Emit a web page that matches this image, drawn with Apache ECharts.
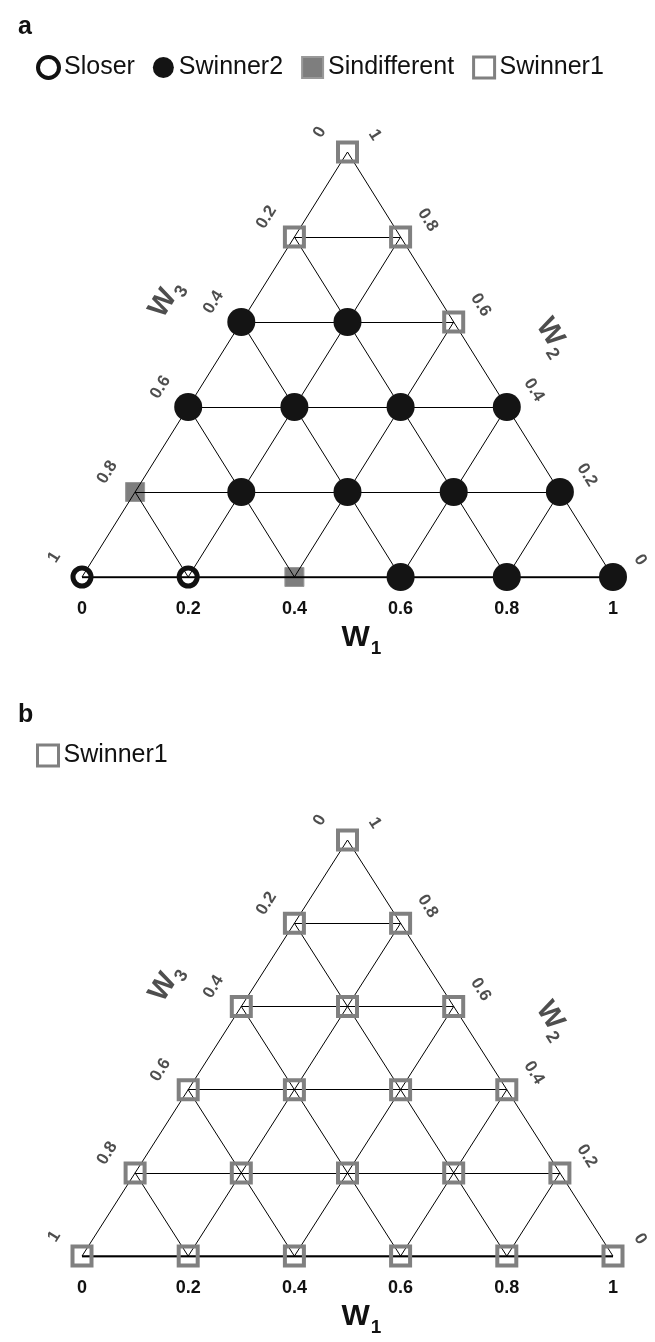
<!DOCTYPE html>
<html>
<head>
<meta charset="utf-8">
<title>Ternary weight outcomes</title>
<script src="https://cdn.jsdelivr.net/npm/echarts@6/dist/echarts.min.js"></script>
<style>
  html, body { margin: 0; padding: 0; background: #fff; }
  #chartA { width: 655px; height: 688px; }
  #chartB { width: 655px; height: 654px; }
</style>
</head>
<body>
<div id="chartA"></div>
<div id="chartB"></div>
<script>
// grid values along each side of the triangle
const ticks = [0, 0.2, 0.4, 0.6, 0.8, 1];
const tickLabels = ['0', '0.2', '0.4', '0.6', '0.8', '1'];

// points are [W1, W2], W3 = 1 - W1 - W2
const aLoser = [[0, 0], [0.2, 0]];
const aIndifferent = [[0.4, 0], [0, 0.2]];
const aWinner2 = [
    [0.6, 0], [0.8, 0], [1, 0],
    [0.2, 0.2], [0.4, 0.2], [0.6, 0.2], [0.8, 0.2],
    [0, 0.4], [0.2, 0.4], [0.4, 0.4], [0.6, 0.4],
    [0, 0.6], [0.2, 0.6]
];
const aWinner1 = [[0.4, 0.6], [0, 0.8], [0.2, 0.8], [0, 1]];

const bWinner1 = [
    [0, 0], [0.2, 0], [0.4, 0], [0.6, 0], [0.8, 0], [1, 0],
    [0, 0.2], [0.2, 0.2], [0.4, 0.2], [0.6, 0.2], [0.8, 0.2],
    [0, 0.4], [0.2, 0.4], [0.4, 0.4], [0.6, 0.4],
    [0, 0.6], [0.2, 0.6], [0.4, 0.6],
    [0, 0.8], [0.2, 0.8],
    [0, 1]
];

const FONT = '"Liberation Sans", Arial, sans-serif';
const GRAY = '#808080';

// ternary -> plain x/y (x along the W1 side, y towards the W2 corner)
function toXY(p) {
    return [p[0] + p[1] / 2, p[1]];
}

function gridSegments() {
    let segs = [];
    ticks.forEach(function (k) {
        if (k > 0 && k < 1) segs.push({coords: [toXY([0, k]), toXY([1 - k, k])]});
        if (k < 1) segs.push({coords: [toXY([k, 0]), toXY([k, 1 - k])]});
        if (k > 0) segs.push({coords: [toXY([k, 0]), toXY([0, k])]});
    });
    return segs;
}

const subRich = function (size, subSize, color) {
    return {
        w: {fontSize: size, fontWeight: 'bold', fontFamily: FONT, color: color, lineHeight: size, verticalAlign: 'top'},
        s: {fontSize: subSize, fontWeight: 'bold', fontFamily: FONT, color: color, lineHeight: subSize,
            verticalAlign: 'top', padding: [Math.round(size * 0.53), 0, 0, 1]}
    };
};

const seriesStyles = {
    Sloser: {symbol: 'circle', symbolSize: 18, z: 4,
        itemStyle: {color: 'rgba(0,0,0,0)', borderColor: '#111', borderWidth: 5, opacity: 1}},
    Swinner2: {symbol: 'circle', symbolSize: 28, z: 4,
        itemStyle: {color: '#141414', opacity: 1}},
    Sindifferent: {symbol: 'rect', symbolSize: 19, z: 1,
        itemStyle: {color: 'rgba(115,115,115,0.92)', borderColor: '#999', borderWidth: 1, opacity: 1}},
    Swinner1: {symbol: 'rect', symbolSize: 19, z: 4,
        itemStyle: {color: 'rgba(0,0,0,0)', borderColor: GRAY, borderWidth: 4, opacity: 1}}
};

const legendItems = {
    Sloser: {name: 'Sloser', icon: 'circle', itemStyle: {borderWidth: 4}},
    Swinner2: {name: 'Swinner2', icon: 'circle'},
    Sindifferent: {name: 'Sindifferent', icon: 'rect'},
    Swinner1: {name: 'Swinner1', icon: 'rect', itemStyle: {borderWidth: 3}}
};

function buildOption(panel, groups) {
    const n = ticks.length;
    const leftLabels = ticks.map(function (k, i) {
        return {name: tickLabels[n - 1 - i], value: toXY([0, k])};
    });
    const rightLabels = ticks.map(function (k, i) {
        return {name: tickLabels[i], value: toXY([1 - k, k])};
    });
    const sideLabel = {
        show: true, position: 'inside', formatter: '{b}',
        fontSize: 17, fontWeight: 'bold', fontFamily: FONT, color: '#222'
    };

    let series = [
        {
            type: 'lines', coordinateSystem: 'cartesian2d', silent: true, z: 2,
            lineStyle: {color: '#000', width: 1, opacity: 1},
            data: gridSegments()
        },
        {
            type: 'lines', coordinateSystem: 'cartesian2d', silent: true, z: 3,
            lineStyle: {color: '#000', width: 2.6, opacity: 1},
            data: [{coords: [toXY([0, 0]), toXY([1, 0])]}]
        },
        {
            type: 'scatter', silent: true, symbolSize: 1, clip: false,
            itemStyle: {color: 'rgba(0,0,0,0)'},
            label: Object.assign({rotate: 58, offset: [2, -34]}, sideLabel),
            data: leftLabels
        },
        {
            type: 'scatter', silent: true, symbolSize: 1, clip: false,
            itemStyle: {color: 'rgba(0,0,0,0)'},
            label: Object.assign({rotate: -58, offset: [0, -32]}, sideLabel),
            data: rightLabels
        },
        // side titles W3 and W2
        {
            type: 'scatter', silent: true, symbolSize: 1, clip: false,
            itemStyle: {color: 'rgba(0,0,0,0)'},
            label: {show: true, position: 'inside', formatter: '{w|W}{s|3}', rotate: 58, offset: [0, -76],
                rich: subRich(29, 18, '#222')},
            data: [toXY([0, 0.56])]
        },
        {
            type: 'scatter', silent: true, symbolSize: 1, clip: false,
            itemStyle: {color: 'rgba(0,0,0,0)'},
            label: {show: true, position: 'inside', formatter: '{w|W}{s|2}', rotate: -58, offset: [0, -76],
                rich: subRich(29, 18, '#222')},
            data: [toXY([0.53, 0.47])]
        }
    ];

    groups.forEach(function (g) {
        let st = seriesStyles[g.name];
        series.push({
            name: g.name,
            type: 'scatter',
            clip: false,
            symbol: st.symbol,
            symbolSize: st.symbolSize,
            z: st.z,
            itemStyle: st.itemStyle,
            emphasis: {disabled: true},
            data: g.points.map(toXY)
        });
    });

    return {
        animation: false,
        title: {
            text: panel, left: 13, top: 10,
            textStyle: {fontSize: 25, fontWeight: 'bold', fontFamily: FONT, color: '#111'}
        },
        legend: {
            left: 36, top: 55, padding: 0, itemGap: 18,
            itemWidth: 21, itemHeight: 21,
            textStyle: {fontSize: 25, fontFamily: FONT, color: '#111'},
            selectedMode: false,
            data: groups.map(function (g) { return legendItems[g.name]; })
        },
        grid: {left: 82, right: 42, top: 152, height: 425},
        xAxis: {
            type: 'value', min: 0, max: 1, interval: 0.2,
            axisLine: {show: false}, axisTick: {show: false}, splitLine: {show: false},
            axisLabel: {
                margin: 23, fontSize: 18, fontWeight: 'bold', fontFamily: FONT, color: '#111',
                formatter: function (v) { return tickLabels[ticks.indexOf(Math.round(v * 10) / 10)]; }
            },
            name: '{w|W}{s|1}',
            nameLocation: 'middle',
            nameGap: 42,
            nameTextStyle: {padding: [0, 0, 0, 28], rich: subRich(30, 19, '#111')}
        },
        yAxis: {
            type: 'value', min: 0, max: 1, show: false
        },
        series: series
    };
}

const chartA = echarts.init(document.getElementById('chartA'));
chartA.setOption(buildOption('a', [
    {name: 'Sloser', points: aLoser},
    {name: 'Swinner2', points: aWinner2},
    {name: 'Sindifferent', points: aIndifferent},
    {name: 'Swinner1', points: aWinner1}
]));

const chartB = echarts.init(document.getElementById('chartB'));
chartB.setOption(buildOption('b', [
    {name: 'Swinner1', points: bWinner1}
]));
</script>
</body>
</html>
